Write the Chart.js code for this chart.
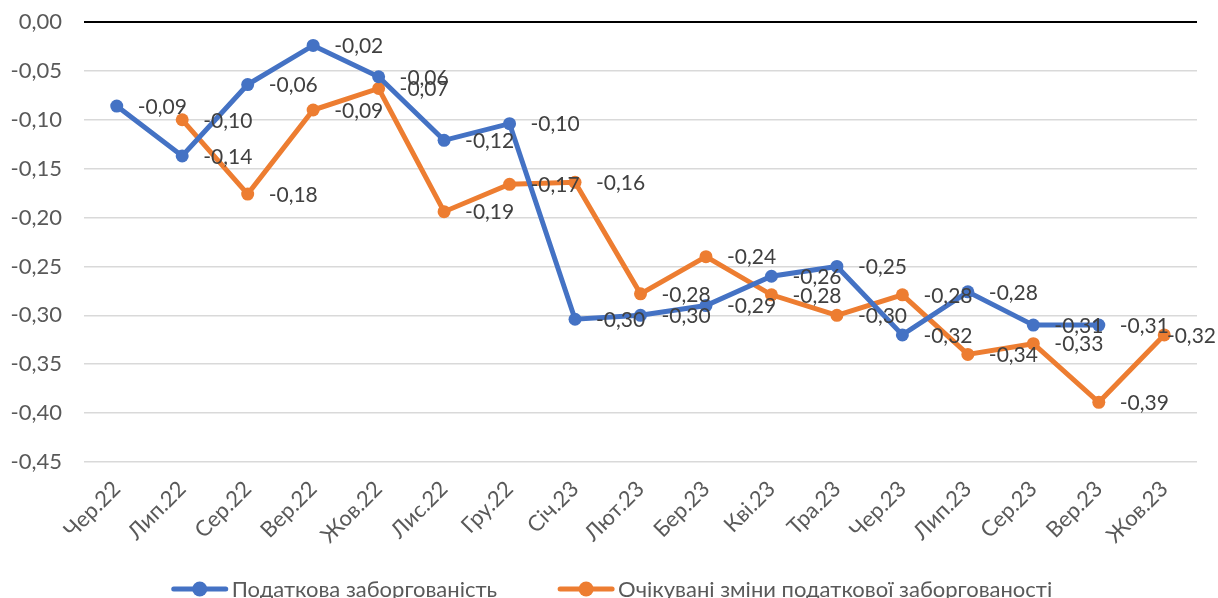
<!DOCTYPE html>
<html>
<head>
<meta charset="utf-8">
<script src="https://cdn.jsdelivr.net/npm/chart.js@4.4.0/dist/chart.umd.min.js"></script>
<style>
  html, body { margin: 0; padding: 0; background: #fff; overflow: hidden; }
  #wrap { width: 1218px; height: 598px; }
</style>
</head>
<body>
<div id="wrap"><canvas id="myChart" width="1218" height="598"></canvas></div>
<script>
// categories and series
const months = ['Чер.22', 'Лип.22', 'Сер.22', 'Вер.22', 'Жов.22', 'Лис.22', 'Гру.22', 'Січ.23',
  'Лют.23', 'Бер.23', 'Кві.23', 'Тра.23', 'Чер.23', 'Лип.23', 'Сер.23', 'Вер.23', 'Жов.23'];
const debtValues = [-0.086, -0.137, -0.064, -0.024, -0.056, -0.121, -0.104, -0.304,
  -0.300, -0.290, -0.260, -0.250, -0.320, -0.276, -0.310, -0.310, null];
const expectedValues = [null, -0.100, -0.176, -0.090, -0.068, -0.194, -0.166, -0.164,
  -0.278, -0.240, -0.279, -0.300, -0.279, -0.340, -0.329, -0.389, -0.320];
const seriesNames = ['Податкова заборгованість', 'Очікувані зміни податкової заборгованості'];
const seriesColors = ['#4472C4', '#ED7D31'];

const FONT = 'Lato, "Open Sans", sans-serif';

function fmt(v) {
  return v.toFixed(2).replace('.', ',').replace('-0,00', '0,00');
}

// value labels to the right of each point (kept inside the canvas)
const valueLabels = {
  id: 'valueLabels',
  afterDatasetsDraw(chart) {
    const c = chart.ctx;
    c.save();
    c.font = '21px ' + FONT;
    c.fillStyle = '#404040';
    c.textAlign = 'left';
    c.textBaseline = 'middle';
    chart.data.datasets.forEach((ds, i) => {
      chart.getDatasetMeta(i).data.forEach((pt, j) => {
        const v = ds.data[j];
        if (v === null || v === undefined) return;
        const txt = fmt(v);
        const w = c.measureText(txt).width;
        const x = Math.min(pt.x + 21, chart.width - 2 - w);
        c.fillText(txt, x, pt.y + 1);
      });
    });
    c.restore();
  }
};

// legend at bottom: line + marker sample
const bottomLegend = {
  id: 'bottomLegend',
  afterDraw(chart) {
    const c = chart.ctx;
    c.save();
    c.font = '22px ' + FONT;
    c.textBaseline = 'alphabetic';
    const sampleW = 56, gapText = 4, itemGap = 61;
    const widths = seriesNames.map(n => c.measureText(n).width);
    let total = 0;
    widths.forEach((w, i) => { total += sampleW + gapText + w + (i ? itemGap : 0); });
    let x = (chart.width - total) / 2 + 3;
    const y = 589;
    seriesNames.forEach((name, i) => {
      c.strokeStyle = seriesColors[i];
      c.lineWidth = 5;
      c.lineCap = 'round';
      c.beginPath();
      c.moveTo(x + 2, y);
      c.lineTo(x + sampleW - 2, y);
      c.stroke();
      c.fillStyle = seriesColors[i];
      c.beginPath();
      c.arc(x + sampleW / 2, y, 7.5, 0, Math.PI * 2);
      c.fill();
      c.fillStyle = '#595959';
      c.fillText(name, x + sampleW + gapText, 597);
      x += sampleW + gapText + widths[i] + itemGap;
    });
    c.restore();
  }
};

const ctx = document.getElementById('myChart').getContext('2d');
const myChart = new Chart(ctx, {
  type: 'line',
  data: {
    labels: months,
    datasets: [
      {
        label: seriesNames[0],
        data: debtValues,
        borderColor: seriesColors[0],
        backgroundColor: seriesColors[0],
        borderWidth: 5,
        pointRadius: 6.5,
        pointBorderWidth: 0,
        pointBackgroundColor: seriesColors[0],
        tension: 0,
      },
      {
        label: seriesNames[1],
        data: expectedValues,
        borderColor: seriesColors[1],
        backgroundColor: seriesColors[1],
        borderWidth: 5,
        pointRadius: 6.5,
        pointBorderWidth: 0,
        pointBackgroundColor: seriesColors[1],
        tension: 0,
      },
    ],
  },
  options: {
    responsive: false,
    animation: false,
    layout: { padding: { top: 22, right: 21, bottom: 46, left: 0 } },
    plugins: {
      legend: { display: false },
      tooltip: { enabled: false },
    },
    scales: {
      x: {
        offset: true,
        grid: { display: false, drawTicks: false },
        border: { display: false },
        ticks: {
          color: '#595959',
          font: { family: FONT, size: 22 },
          minRotation: 45,
          maxRotation: 45,
          padding: 14,
          autoSkip: false,
        },
        afterFit(scale) {
          scale.height = 90;
          scale.paddingLeft = 0;
          scale.paddingRight = 0;
        },
      },
      y: {
        min: -0.45,
        max: 0,
        grid: {
          color: (c) => (c.tick && Math.abs(c.tick.value) < 1e-9 ? '#000000' : '#d9d9d9'),
          lineWidth: (c) => (c.tick && Math.abs(c.tick.value) < 1e-9 ? 2 : 1.5),
          drawTicks: false,
        },
        border: { display: false },
        ticks: {
          stepSize: 0.05,
          color: '#595959',
          font: { family: FONT, size: 22 },
          padding: 22,
          callback: (v) => fmt(v),
        },
        afterFit(scale) {
          scale.width = 84;
          scale.paddingTop = 0;
          scale.paddingBottom = 0;
        },
      },
    },
  },
  plugins: [valueLabels, bottomLegend],
});
</script>
</body>
</html>
